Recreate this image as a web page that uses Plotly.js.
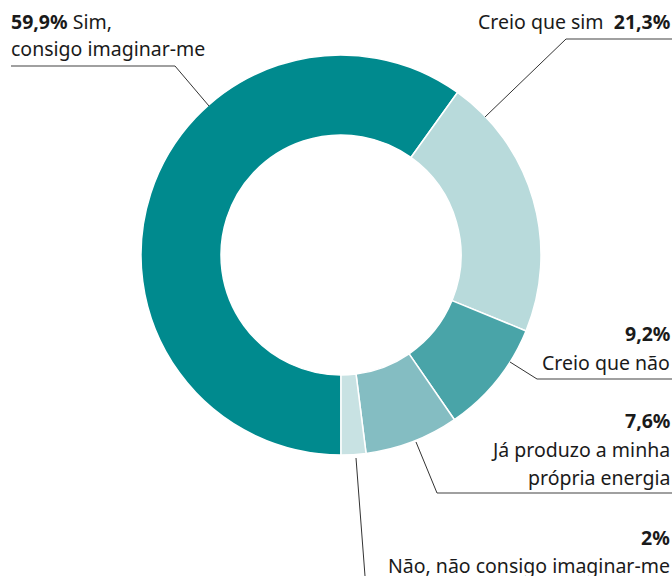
<!DOCTYPE html>
<html><head><meta charset="utf-8">
<script src="https://cdn.plot.ly/plotly-3.0.1.min.js"></script>
<style>html,body{margin:0;padding:0;background:#fff;}#chart{width:672px;height:576px;}</style>
</head><body><div id="chart"></div>
<script>
const categories = ["Sim, consigo imaginar-me", "Creio que sim", "Creio que não", "Já produzo a minha própria energia", "Não, não consigo imaginar-me"];
const values = [59.9, 21.3, 9.2, 7.6, 2];
const pctLabels = ["59,9%", "21,3%", "9,2%", "7,6%", "2%"];
const colors = ["#008A8E", "#B8DADB", "#49A4A8", "#84BDC2", "#C8E2E3"];

const W = 672, H = 576;
const px = x => x / W;
const py = y => 1 - y / H;
const FONT = "Noto Sans, sans-serif";
const FS = 19.5;

const trace = {
  type: "pie",
  values: values,
  labels: categories,
  marker: {colors: colors, line: {color: "#ffffff", width: 1.5}},
  hole: 0.6,
  sort: false,
  direction: "clockwise",
  rotation: 180,
  textinfo: "none",
  hoverinfo: "label+percent",
  domain: {x: [px(141), px(541)], y: [py(455), py(55)]}
};

function ann(text, x, y, anchor) {
  return {text: text, x: px(x), y: py(y), xref: "paper", yref: "paper",
    xanchor: anchor, yanchor: "middle", showarrow: false,
    font: {family: FONT, size: FS, color: "#1a1a1a"}};
}
const annotations = [
  ann("<b>" + pctLabels[0] + "</b> Sim,", 9, 21, "left"),
  ann("consigo imaginar-me", 9, 49, "left"),
  ann("Creio que sim  <b>" + pctLabels[1] + "</b>", 672, 22, "right"),
  ann("<b>" + pctLabels[2] + "</b>", 672, 333, "right"),
  ann("Creio que não", 672, 362, "right"),
  ann("<b>" + pctLabels[3] + "</b>", 672, 420, "right"),
  ann("Já produzo a minha", 672, 449, "right"),
  ann("própria energia", 672, 477, "right"),
  ann("<b>" + pctLabels[4] + "</b>", 672, 537, "right"),
  ann("Não, não consigo imaginar-me", 672, 565, "right")
];

function seg(x0, y0, x1, y1, color, w) {
  return {type: "line", xref: "paper", yref: "paper", x0: px(x0), y0: py(y0), x1: px(x1), y1: py(y1),
    line: {color: color, width: w}};
}
const shapes = [
  seg(11, 66, 175, 66, "#808080", 1.5), seg(175, 66, 209, 106, "#333333", 1),
  seg(566, 39, 672, 39, "#808080", 1.5), seg(566, 39, 485, 117, "#333333", 1),
  seg(537, 379, 672, 379, "#808080", 1.5), seg(537, 379, 510, 362, "#333333", 1),
  seg(437, 493, 672, 493, "#808080", 1.5), seg(437, 493, 416, 442, "#333333", 1),
  seg(356, 458, 365, 576, "#333333", 1)
];

const layout = {
  width: W, height: H,
  margin: {l: 0, r: 0, t: 0, b: 0},
  showlegend: false,
  paper_bgcolor: "#ffffff",
  annotations: annotations,
  shapes: shapes
};
Plotly.newPlot("chart", [trace], layout, {displayModeBar: false, staticPlot: true});
</script></body></html>
